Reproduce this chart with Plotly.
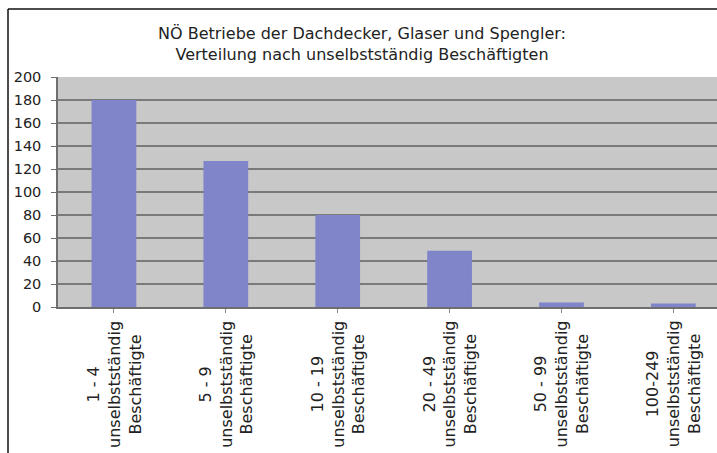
import plotly.graph_objects as go

categories = ["1 - 4", "5 - 9", "10 - 19", "20 - 49", "50 - 99", "100-249"]
sub_line1 = "unselbstständig"
sub_line2 = "Beschäftigte"
values = [180, 127, 80, 49, 4, 3]
y_ticks = [0, 20, 40, 60, 80, 100, 120, 140, 160, 180, 200]
title_lines = ["NÖ Betriebe der Dachdecker, Glaser und Spengler:",
               "Verteilung nach unselbstständig Beschäftigten"]

xs = list(range(len(categories)))
FONT = "DejaVu Sans"

fig = go.Figure()
fig.add_trace(go.Bar(
    x=xs,
    y=values,
    marker=dict(color="#8084c8", line=dict(width=0)),
    width=0.4,
))

# category labels, rotated and centred like the original
annotations = []
for i, c in enumerate(categories):
    annotations.append(dict(
        x=i, xref="x", y=(307 - 384) / 230, yref="paper",
        text=f"{c}<br>{sub_line1}<br>{sub_line2}",
        textangle=-90, showarrow=False, align="center",
        xanchor="center", yanchor="middle",
        font=dict(family=FONT, size=16, color="#222222"),
    ))

fig.update_layout(
    width=717, height=453,
    margin=dict(l=58, r=0, t=77, b=146, autoexpand=False),
    paper_bgcolor="white",
    plot_bgcolor="#c8c8c8",
    showlegend=False,
    font=dict(family=FONT, size=13, color="#222222"),
    title=dict(text="<br>".join(title_lines), x=362 / 717, xref="container",
               y=1 - 39 / 453, yref="container", yanchor="middle", xanchor="center",
               font=dict(family=FONT, size=16, color="#222222")),
    xaxis=dict(
        tickmode="array", tickvals=xs, ticktext=[""] * len(xs),
        range=[-0.5, 5.39], automargin=False, tickson="boundaries",
        showgrid=False, zeroline=False,
        showline=True, linecolor="#6e6e6e", linewidth=1.5,
        ticks="outside", ticklen=4, tickcolor="#8a8a8a",
    ),
    yaxis=dict(
        tickmode="array", tickvals=y_ticks, range=[0, 200], automargin=False,
        showgrid=True, gridcolor="#7a7a7a", gridwidth=1.5, zeroline=False,
        showline=True, linecolor="#6e6e6e", linewidth=1.5,
        ticks="outside", ticklen=5, tickcolor="#6e6e6e", ticklabelstandoff=7,
        tickfont=dict(family=FONT, size=14.5, color="#222222"),
    ),
    annotations=annotations,
    shapes=[
        dict(type="line", xref="paper", yref="paper",
             x0=(8 - 58) / 659, x1=(8 - 58) / 659, y0=(307 - 9) / 230, y1=(307 - 460) / 230,
             line=dict(color="#111111", width=1.5)),
        dict(type="line", xref="paper", yref="paper",
             x0=(8 - 58) / 659, x1=1.01, y0=(307 - 9) / 230, y1=(307 - 9) / 230,
             line=dict(color="#111111", width=1.5)),
    ],
)

fig.write_html("out.html")
